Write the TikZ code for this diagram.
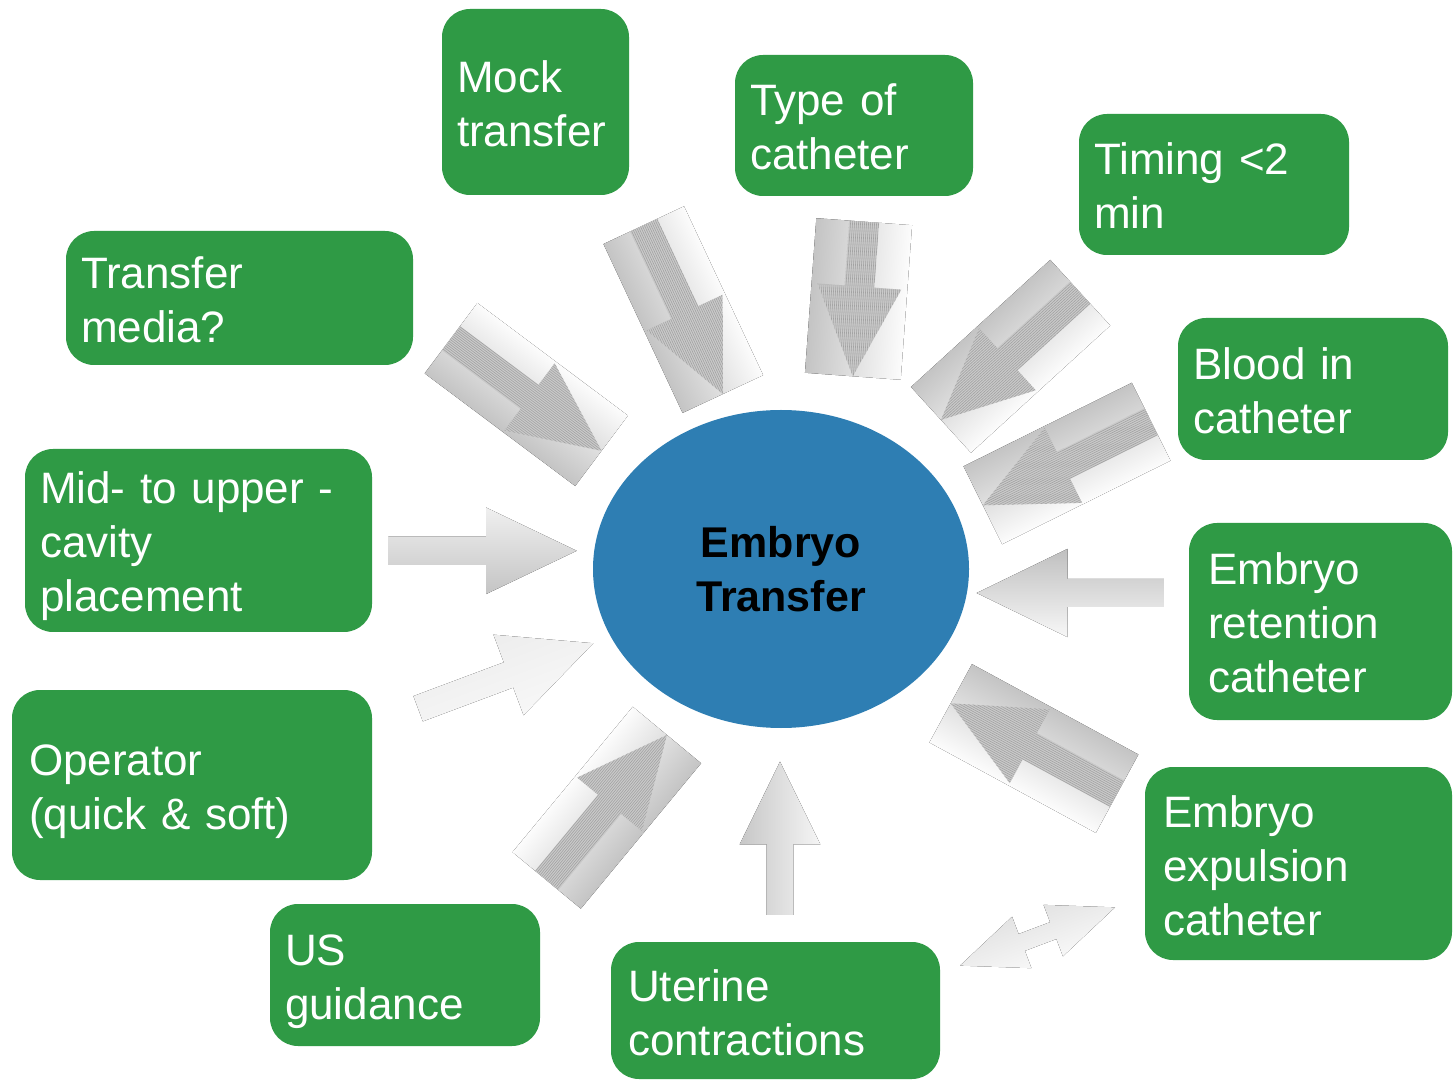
\documentclass[tikz,border=0pt]{standalone}
\usepackage{fontspec}
\setmainfont{Liberation Sans}
\usetikzlibrary{shapes.geometric}

\definecolor{boxgreen}{HTML}{2F9A45}
\definecolor{hubblue}{HTML}{2E7EB3}
\definecolor{shadelight}{HTML}{FCFCFC}
\definecolor{shadedark}{HTML}{C4C4C4}
\definecolor{hatchbg}{HTML}{CACACA}
\definecolor{hatchfg}{HTML}{A2A2A2}

\tikzset{
  topic/.style={rounded corners=28pt, fill=boxgreen, text=white, align=left,
    inner ysep=0pt, text height=35pt, font=\fontsize{44}{54}\selectfont},
  twolines/.style={text depth=54pt},
  threelines/.style={text depth=108pt},
  hub/.style={ellipse, fill=hubblue, inner sep=0pt, align=center,
    font=\fontsize{43}{54}\selectfont\bfseries},
  hatchline/.style={draw=hatchfg, line width=0.6pt},
}

% plain block arrow: centre, angle, length, shaft half-width,
% head half-width, head length, colour on its left, colour on its right
\newcommand{\blockarr}[8]{%
  \begin{scope}[transform canvas={shift={(#1)},rotate=#2}]
    \fill[top color=#7, bottom color=#8]
      (-#3/2,-#4) -- (#3/2-#6,-#4) -- (#3/2-#6,-#5) -- (#3/2,0)
      -- (#3/2-#6,#5) -- (#3/2-#6,#4) -- (-#3/2,#4) -- cycle;
  \end{scope}}

% block arrow on a shaded plate: centre, angle, length, width
\newcommand{\framedarr}[4]{%
  \begin{scope}[transform canvas={shift={(#1)},rotate=#2}]
    \fill[top color=shadelight, bottom color=shadedark]
      (-#3/2,-#4/2) rectangle (#3/2,#4/2);
    \begin{scope}
      \clip (-#3/2,-15) -- (#3/2-90,-15) -- (#3/2-90,-42) -- (#3/2,0)
        -- (#3/2-90,42) -- (#3/2-90,15) -- (-#3/2,15) -- cycle;
      \fill[hatchbg] (-#3/2,-45) rectangle (#3/2,45);
      \foreach \k in {-43.5,-41.5,...,43.5}
        \draw[hatchline] (-#3/2,\k) -- (#3/2,\k);
    \end{scope}
  \end{scope}}

\begin{document}
\begin{tikzpicture}[x=1pt,y=1pt]
  \fill[white] (0,0) rectangle (1453,1080);
  \useasboundingbox (0,0) rectangle (1453,1080);

  % arrows pointing at the centre
  \framedarr{526.3,685.5}{-36.8}{188}{88}
  \framedarr{683.3,770.4}{-64.9}{186.5}{89}
  \framedarr{858.5,781}{-94.2}{155}{96}
  \framedarr{1010.6,723.7}{222.4}{188.6}{89}
  \framedarr{1067,616.5}{206.4}{188}{87}
  \framedarr{606.8,272.3}{50.4}{188.7}{88.7}
  \framedarr{1033.9,331.5}{151.5}{189.4}{89.2}

  \blockarr{482.5,529.2}{0}{188.4}{14.2}{43.3}{90.7}{white!94!black}{white!77!black}
  \blockarr{505.7,404}{20.5}{187}{13.5}{43}{90.5}{white!93!black}{white!97!black}
  \blockarr{780,241.7}{90}{153.3}{13.3}{40.3}{82.6}{white!78!black}{white!96!black}
  \blockarr{1070.3,487}{180}{187.3}{14}{44.2}{91}{white!97!black}{white!75!black}

  % two-headed arrow between the lower boxes
  \begin{scope}[transform canvas={shift={(1037.5,143.5)},rotate=20.6}]
    \fill[top color=white!89!black, bottom color=white!97!black]
      (-82.8,0) -- (-16.8,27.5) -- (-16.8,9) -- (16.8,9) -- (16.8,27.5)
      -- (82.8,0) -- (16.8,-27.5) -- (16.8,-9) -- (-16.8,-9)
      -- (-16.8,-27.5) -- cycle;
  \end{scope}

  % centre
  \node[hub, minimum width=376pt, minimum height=318pt] (centre) at (781,511)
    {Embryo\\Transfer};

  % factors
  \node[topic, twolines, minimum width=187pt, minimum height=186pt, inner xsep=15pt, text width=157pt]
    (mock) at (535.5,978) {Mock\\transfer};
  \node[topic, twolines, minimum width=238pt, minimum height=141pt, inner xsep=15pt, text width=208pt]
    (type) at (854,954.5) {Type of\\catheter};
  \node[topic, twolines, minimum width=270pt, minimum height=141pt, inner xsep=15pt, text width=240pt]
    (timing) at (1214,895.5) {Timing <2\\min};
  \node[topic, twolines, minimum width=270pt, minimum height=142pt, inner xsep=15pt, text width=240pt]
    (blood) at (1313,691) {Blood in\\catheter};
  \node[topic, threelines, minimum width=263pt, minimum height=197pt, inner xsep=19pt, text width=225pt]
    (retention) at (1320.5,458.5) {Embryo\\retention\\catheter};
  \node[topic, threelines, minimum width=307pt, minimum height=193pt, inner xsep=18pt, text width=271pt]
    (expulsion) at (1298.5,216.5) {Embryo\\expulsion\\catheter};
  \node[topic, twolines, minimum width=329pt, minimum height=137pt, inner xsep=17pt, text width=295pt]
    (uterine) at (775.5,69.5) {Uterine\\contractions};
  \node[topic, twolines, minimum width=270pt, minimum height=142pt, inner xsep=15pt, text width=240pt]
    (us) at (405,105) {US\\guidance};
  \node[topic, twolines, minimum width=360pt, minimum height=190pt, inner xsep=17pt, text width=326pt]
    (operator) at (192,295) {Operator\\(quick \& soft)};
  \node[topic, threelines, minimum width=347pt, minimum height=183pt, inner xsep=15pt, text width=317pt]
    (placement) at (198.5,539.5) {Mid- to upper -\\cavity\\placement};
  \node[topic, twolines, minimum width=347pt, minimum height=134pt, inner xsep=15pt, text width=317pt]
    (media) at (239.5,782) {Transfer\\media?};
\end{tikzpicture}
\end{document}
